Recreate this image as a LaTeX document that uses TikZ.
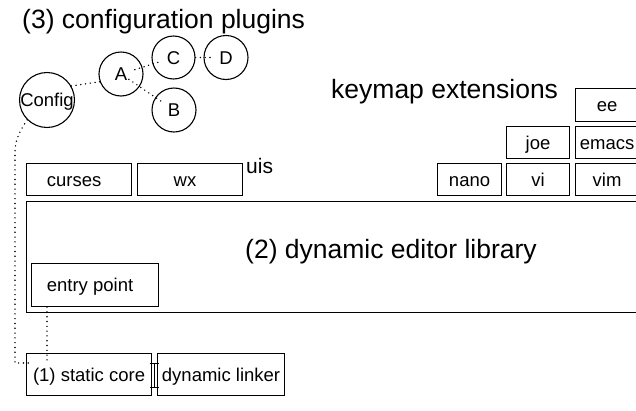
\documentclass[tikz,border=0pt]{standalone}
\usepackage{fontspec}
\setmainfont{Liberation Sans}
\usetikzlibrary{arrows.meta,calc}
% text set a little left of the box centre
\newcommand\padtxt[1]{#1\kern10pt\relax}
\begin{document}
\begin{tikzpicture}[x=1pt,y=-1pt,
  box/.style={draw, line width=1.1pt, inner sep=0pt, anchor=north west,
    font=\fontsize{18.5}{20}\selectfont, text height=13pt, text depth=0pt},
  plug/.style={draw, circle, line width=1.1pt, inner sep=0pt,
    font=\fontsize{18.5}{20}\selectfont, text height=13pt, text depth=0pt},
  heading/.style={inner sep=0pt, anchor=base west, font=\fontsize{26.5}{30}\selectfont},
  link/.style={line width=1.6pt, line cap=round, dash pattern=on 0pt off 4.8pt}
]
\useasboundingbox (0,0) rectangle (636,410);
\clip (0,0) rectangle (636,410);

% headings
\node[heading] (ttl) at (22,28) {(3) configuration plugins};
\node[heading] (kmx) at (331,98) {keymap extensions};
\node[heading] (libtxt) at (245,258) {(2) dynamic editor library};
\node[heading, font=\fontsize{21}{24}\selectfont] (uis) at (246,173) {uis};

% configuration plugins
\node[plug, minimum size=53pt] (cfg) at (47,100) {Config};
\node[plug, minimum size=44pt] (pa) at (121,74) {A};
\node[plug, minimum size=43pt] (pc) at (173.5,57.5) {C};
\node[plug, minimum size=44pt] (pd) at (226,57.5) {D};
\node[plug, minimum size=44pt] (pb) at (174,110) {B};

% user interfaces
\node[box, minimum width=105pt, minimum height=32pt] (curses) at (26,163) {\padtxt{curses}};
\node[box, minimum width=105pt, minimum height=32pt] (wx) at (137,163) {\padtxt{wx}};

% keymap extensions
\node[box, minimum width=64pt, minimum height=32pt] (nano) at (437,163) {nano};
\node[box, minimum width=63pt, minimum height=32pt] (vi) at (506,163) {vi};
\node[box, minimum width=63pt, minimum height=32pt] (vim) at (575,163) {vim};
\node[box, minimum width=63pt, minimum height=32pt] (joe) at (506,126) {joe};
\node[box, minimum width=63pt, minimum height=32pt] (emacs) at (575,126) {emacs};
\node[box, minimum width=63pt, minimum height=33pt] (ee) at (575,88) {ee};

% dynamic editor library
\node[box, minimum width=620pt, minimum height=111pt] (edlib) at (26,201) {};
\node[box, minimum width=127pt, minimum height=43pt] (entry) at (31,263) {\padtxt{entry point}};

% static core and linker
\node[box, minimum width=125pt, minimum height=42pt] (core) at (26,353) {(1) static core};
\node[box, minimum width=127pt, minimum height=42pt] (linker) at (157,353) {dynamic linker};

% plugin dependencies
\draw[link] (cfg.30) -- (pa.200);
\draw[link, shorten <=-8pt, shorten >=-10pt] (pa) -- (pc);
\draw[link, shorten >=-9pt] (pc) -- (pd);
\draw[link, shorten <=-13pt, shorten >=-8pt] (pa) -- (pb);

% loading paths into the core
\coordinate (drop) at (15,152);
\coordinate (coretxt) at ($(core.north west)+(5,10)$);
\draw[link] (cfg.225) .. controls (22,128) and (15,138) .. (drop) |- (coretxt);
\draw[link] ($(entry.south west)+(16,0)$) -- ++(0,57);

% core / linker joint
\draw[line width=1.1pt, {Bar[width=9pt]}-{Bar[width=9pt]}]
  ($(core.north east)+(2,10)$) -- ++(0,25);
\end{tikzpicture}
\end{document}
